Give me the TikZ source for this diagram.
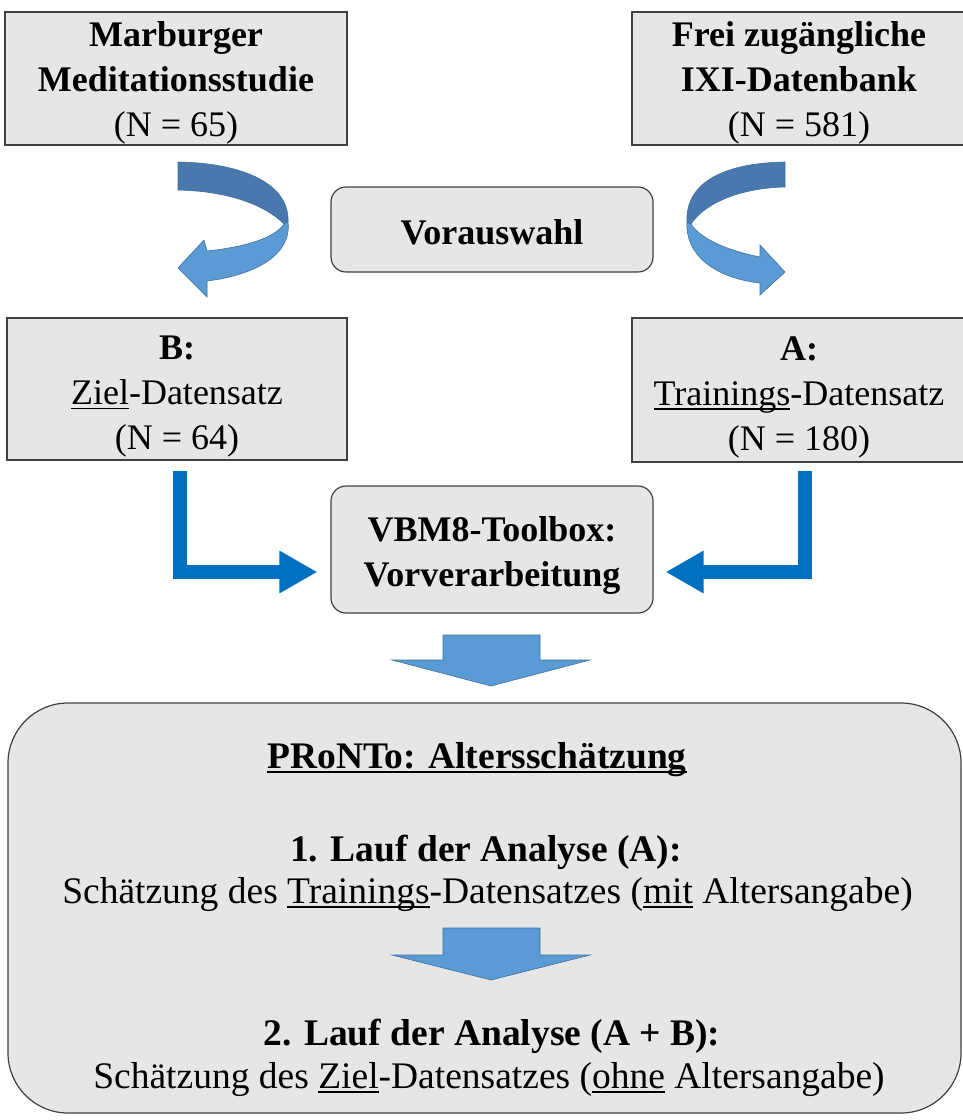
\documentclass[tikz,border=0pt]{standalone}
\usepackage{fontspec}
\setmainfont{Liberation Serif}
\usetikzlibrary{arrows.meta}
\newsavebox{\ulbox}
\newcommand{\myul}[1]{\sbox{\ulbox}{#1}\rlap{\rule[-4.5pt]{\wd\ulbox}{1.6pt}}\usebox{\ulbox}}
\definecolor{boxfill}{HTML}{E6E6E6}
\definecolor{boxline}{HTML}{404040}
\definecolor{lblue}{HTML}{0070C0}
\definecolor{mblue}{HTML}{5B9BD5}
\definecolor{dblue}{HTML}{4878AE}
\definecolor{eblue}{HTML}{41719C}
\tikzset{
  box/.style={draw=boxline, fill=boxfill, line width=1.2pt, inner sep=0pt},
  rbox/.style={box, rounded corners=15pt},
  txt/.style={align=center, inner sep=0pt, font=\fontsize{36}{45}\selectfont},
  bigtxt/.style={inner sep=0pt, font=\fontsize{37.5}{45}\selectfont},
  larrow/.style={draw=lblue, line width=14pt, -{Triangle[width=40pt,length=38pt]}},
  blockarrow/.style={fill=mblue, draw=eblue, line width=0.6pt},
  frontband/.style={fill=mblue, draw=eblue, line width=0.6pt},
  backband/.style={fill=dblue, draw=eblue, line width=0.6pt}
}
\begin{document}
\begin{tikzpicture}[x=1pt,y=-1pt]
\useasboundingbox (0,0) rectangle (962,1120);

% top boxes
\node[box, minimum width=342pt, minimum height=133pt] (m) at (176,78.5) {};
\node[txt] (mt) at ([yshift=-4pt]m.center)
  {\textbf{Marburger}\\\textbf{Meditationsstudie}\\(N = 65)};
\node[box, minimum width=334pt, minimum height=133pt] (f) at (799,78.5) {};
\node[txt] (ft) at ([yshift=-4pt]f.center)
  {\textbf{Frei zugängliche}\\\textbf{IXI-Datenbank}\\(N = 581)};
\node[rbox, minimum width=322pt, minimum height=85pt] (v) at (492,229.5) {};
\node[txt] (vt) at ([yshift=-2.5pt]v.center) {\textbf{Vorauswahl}};

% curved arrows (left)
\path[backband] (178,162) .. controls (245,163) and (290,185) .. (288,222)
  -- (284,224) .. controls (262,202) and (222,191) .. (178,190) -- cycle;
\path[frontband] (288,222) .. controls (292,255) and (255,275) .. (207,281)
  -- (207,297) -- (178,268) -- (204,240) -- (207,251)
  .. controls (245,247) and (275,238) .. (284,224) -- cycle;
% curved arrows (right)
\path[backband] (785,162) .. controls (720,163) and (685,185) .. (687,222)
  -- (691,224) .. controls (705,203) and (740,188) .. (785,187) -- cycle;
\path[frontband] (687,222) .. controls (685,255) and (715,278) .. (760,283)
  -- (760,295) -- (785,272) -- (760,245) -- (760,257)
  .. controls (725,250) and (700,238) .. (691,224) -- cycle;

% middle boxes
\node[box, minimum width=340pt, minimum height=142pt] (b) at (177,389) {};
\node[txt] (bt) at ([yshift=-8pt]b.center)
  {\textbf{B:}\\\myul{Ziel}-Datensatz\\(N = 64)};
\node[box, minimum width=334pt, minimum height=144pt] (a) at (799,390) {};
\node[txt] (at) at ([yshift=-7pt]a.center)
  {\textbf{A:}\\\myul{Trainings}-Datensatz\\(N = 180)};
\node[rbox, minimum width=322pt, minimum height=127pt] (vbm) at (492,549.5) {};
\node[txt] (vbmt) at ([yshift=-6pt]vbm.center)
  {\textbf{VBM8-Toolbox:}\\\textbf{Vorverarbeitung}};

% L arrows
\draw[larrow] ([xshift=3pt,yshift=-10pt]b.south) |- ([xshift=-13pt,yshift=-22.5pt]vbm.west);
\draw[larrow] ([xshift=6pt,yshift=-8pt]a.south) |- ([xshift=12pt,yshift=-22.5pt]vbm.east);

% block arrow down 1
\path[blockarrow] (443,635) -- (540,635) -- (540,660) -- (590,660) -- (491,686)
  -- (392,660) -- (443,660) -- cycle;

% big box
\node[box, rounded corners=60pt, minimum width=953pt, minimum height=410pt] (big) at (484.5,908) {};
\node[bigtxt, anchor=base] (t0) at (477,768) {\textbf{\myul{PRoNTo: Altersschätzung}}};
\node[bigtxt, anchor=base] (l1) at (486,861) {\textbf{1. Lauf der Analyse (A):}};
\node[bigtxt, anchor=base] (s1) at (487.5,903) {Schätzung des \myul{Trainings}-Datensatzes (\myul{mit} Altersangabe)};
\path[blockarrow] (443,928) -- (540,928) -- (540,955) -- (590,955) -- (491,980)
  -- (392,955) -- (443,955) -- cycle;
\node[bigtxt, anchor=base] (l2) at (492,1045) {\textbf{2. Lauf der Analyse (A + B):}};
\node[bigtxt, anchor=base] (s2) at (489,1088) {Schätzung des \myul{Ziel}-Datensatzes (\myul{ohne} Altersangabe)};
\end{tikzpicture}
\end{document}
